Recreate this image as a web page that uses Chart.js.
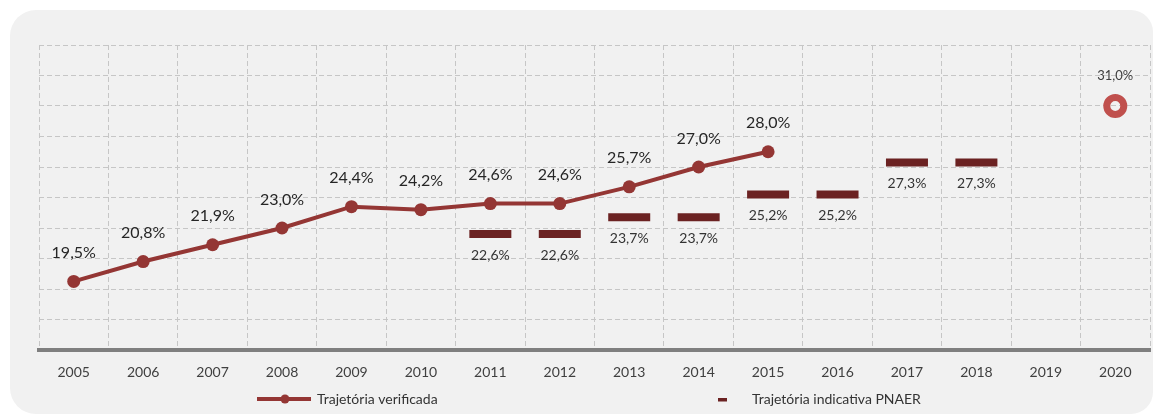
<!DOCTYPE html>
<html>
<head>
<meta charset="utf-8">
<title>Trajetória das energias renováveis</title>
<script src="https://cdn.jsdelivr.net/npm/chart.js@4.4.1/dist/chart.umd.min.js"></script>
<style>
  html, body { margin: 0; padding: 0; background: #ffffff; width: 1157px; height: 416px; overflow: hidden; }
  #panel { position: absolute; left: 10px; top: 10px; width: 1143px; height: 404px; background: #f1f1f1; border-radius: 26px 22px 22px 26px; }
  #wrap { position: absolute; left: 0; top: 0; width: 1157px; height: 416px; }
</style>
</head>
<body>
<div id="panel"></div>
<div id="wrap"><canvas id="chart" width="1157" height="416"></canvas></div>
<script>
// Years on the horizontal axis
const years = ['2005', '2006', '2007', '2008', '2009', '2010', '2011', '2012',
               '2013', '2014', '2015', '2016', '2017', '2018', '2019', '2020'];

// Share of renewables actually recorded (%)
const verified = [19.5, 20.8, 21.9, 23.0, 24.4, 24.2, 24.6, 24.6, 25.7, 27.0, 28.0,
                  null, null, null, null, null];

// Indicative trajectory from the PNAER (%)
const pnaer = [null, null, null, null, null, null, 22.6, 22.6, 23.7, 23.7, 25.2, 25.2,
               27.3, 27.3, null, null];

// 2020 target (%)
const target = [null, null, null, null, null, null, null, null, null, null, null, null,
                null, null, null, 31.0];

// Value axis range and grid step
const yMin = 15;
const yMax = 35;
const yStep = 2;

const FONT = 'Lato, "Noto Sans", sans-serif';
const fmtPct = v => v.toFixed(1).replace('.', ',') + '%';

// Writes each point's value next to its mark
const valueLabels = {
  id: 'valueLabels',
  afterDatasetsDraw(chart) {
    const ctx = chart.ctx;
    chart.data.datasets.forEach((ds, di) => {
      const lab = ds.valueLabel;
      if (!lab) return;
      const meta = chart.getDatasetMeta(di);
      ctx.save();
      ctx.font = lab.font;
      ctx.fillStyle = lab.color;
      ctx.textAlign = 'center';
      ctx.textBaseline = 'middle';
      meta.data.forEach((el, i) => {
        const v = ds.data[i];
        if (v === null || v === undefined) return;
        ctx.fillText(fmtPct(v), el.x, el.y + lab.dy);
      });
      ctx.restore();
    });
  }
};

// Legend row under the axis
const bottomLegend = {
  id: 'bottomLegend',
  afterDraw(chart) {
    const ctx = chart.ctx;
    const y = 399;
    ctx.save();
    // line-with-marker swatch
    ctx.strokeStyle = '#943634';
    ctx.lineWidth = 4;
    ctx.beginPath();
    ctx.moveTo(257, y);
    ctx.lineTo(311, y);
    ctx.stroke();
    ctx.fillStyle = '#943634';
    ctx.beginPath();
    ctx.arc(285, y, 4.5, 0, Math.PI * 2);
    ctx.fill();
    // short dash swatch
    ctx.fillStyle = '#6b2222';
    ctx.fillRect(718, y - 1, 9, 3.5);
    // item texts
    ctx.fillStyle = '#333333';
    ctx.font = '14px ' + FONT;
    ctx.textAlign = 'left';
    ctx.textBaseline = 'middle';
    ctx.fillText('Trajetória verificada', 317, y);
    ctx.fillText('Trajetória indicativa PNAER', 752, y);
    ctx.restore();
  }
};

const gridColor = '#c6c6c6';

new Chart(document.getElementById('chart'), {
  type: 'line',
  data: {
    labels: years,
    datasets: [
      {
        label: 'Trajetória verificada',
        data: verified,
        borderColor: '#943634',
        backgroundColor: '#943634',
        borderWidth: 4,
        pointRadius: 6.5,
        pointBorderWidth: 0,
        pointBackgroundColor: '#943634',
        tension: 0,
        order: 1,
        valueLabel: { font: '16px ' + FONT, color: '#262626', dy: -28.5 }
      },
      {
        label: 'Trajetória indicativa PNAER',
        data: pnaer,
        showLine: false,
        pointStyle: 'line',
        pointRadius: 21,
        pointBorderWidth: 8,
        pointBorderColor: '#6b2222',
        pointBackgroundColor: '#6b2222',
        borderColor: '#6b2222',
        order: 2,
        valueLabel: { font: '14px ' + FONT, color: '#333333', dy: 21 }
      },
      {
        label: 'Meta 2020',
        data: target,
        showLine: false,
        pointStyle: 'circle',
        pointRadius: 8.5,
        pointBorderWidth: 7,
        pointBorderColor: '#c0504d',
        pointBackgroundColor: 'rgba(0,0,0,0)',
        borderColor: '#c0504d',
        order: 3,
        valueLabel: { font: '13px ' + FONT, color: '#404040', dy: -30 }
      }
    ]
  },
  options: {
    responsive: false,
    animation: false,
    events: [],
    layout: { autoPadding: false, padding: { left: 39, right: 7, top: 45, bottom: 35 } },
    plugins: {
      legend: { display: false },
      tooltip: { enabled: false }
    },
    scales: {
      x: {
        offset: true,
        grid: { offset: true, color: gridColor, lineWidth: 1, drawTicks: false },
        border: { display: true, color: '#7f7f7f', width: 4, dash: [5, 3] },
        ticks: { color: '#404040', font: { family: FONT, size: 14 }, padding: 14, maxRotation: 0, autoSkip: false },
        afterFit(scale) {
          scale.paddingLeft = 0;
          scale.paddingRight = 0;
          scale.height = 31;
        }
      },
      y: {
        min: yMin,
        max: yMax,
        grid: { color: gridColor, lineWidth: 1, drawTicks: false },
        border: { display: false, dash: [5, 3] },
        ticks: { display: false, stepSize: yStep }
      }
    }
  },
  plugins: [valueLabels, bottomLegend]
});
</script>
</body>
</html>
